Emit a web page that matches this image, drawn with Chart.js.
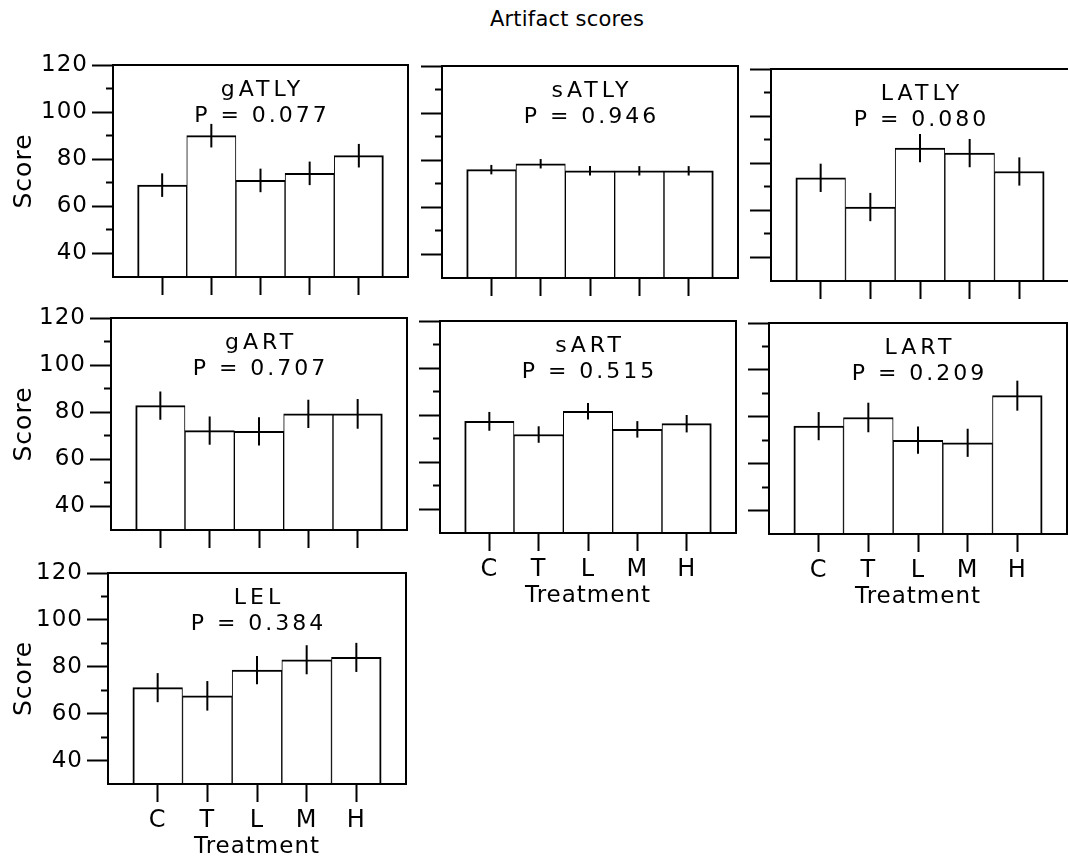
<!DOCTYPE html>
<html>
<head>
<meta charset="utf-8">
<script src="https://cdn.jsdelivr.net/npm/chart.js@4.4.0/dist/chart.umd.min.js"></script>
<style>
  html, body { margin: 0; padding: 0; background: #fff; overflow: hidden; }
  body { width: 1068px; height: 865px; position: relative; }
  #title {
    position: absolute; left: 367px; top: 8px; width: 400px;
    text-align: center; font: 21px 'DejaVu Sans'; line-height: 22px;
    letter-spacing: 0.2px; color: #000;
  }
  canvas { position: absolute; }
</style>
</head>
<body>
<div id="title">Artifact scores</div>
<script>
// categories
const treatments = ['C', 'T', 'L', 'M', 'H'];

// panel names and P values
const panelNames = ['gATLY', 'sATLY', 'LATLY', 'gART', 'sART', 'LART', 'LEL'];
const pValues = ['0.077', '0.946', '0.080', '0.707', '0.515', '0.209', '0.384'];

// mean scores per treatment
const gATLY = [69, 90, 71, 74, 81.5];
const sATLY = [76, 78.5, 75.5, 75.5, 75.5];
const LATLY = [73.8, 61.4, 86.4, 84.3, 76.5];
const gART = [82.8, 72.2, 71.9, 79.3, 79.3];
const sART = [77.4, 71.8, 81.7, 74, 76.4];
const LART = [76, 79.7, 70, 68.9, 89];
const LEL = [71.1, 67.6, 78.6, 83, 84];

// error bar half-lengths
const gATLYErr = [5, 5, 5, 5, 5];
const sATLYErr = [2, 2, 2, 2, 2];
const LATLYErr = [6, 6, 6, 6, 6];
const gARTErr = [6, 6, 6, 6, 6.3];
const sARTErr = [4, 3.5, 3.5, 3.5, 3.7];
const LARTErr = [6, 6.3, 5.8, 6, 6.4];
const LELErr = [6.2, 6.3, 6, 6.2, 6.2];

// y axis
const yMin = 30;
const yMax = 120;

const means = [gATLY, sATLY, LATLY, gART, sART, LART, LEL];
const errors = [gATLYErr, sATLYErr, LATLYErr, gARTErr, sARTErr, LARTErr, LELErr];

// plot area placement on the page (left, top, width, height)
const layout = [
  { left: 113, top: 65,    w: 295, h: 212, col: 0, showX: false },
  { left: 442, top: 66,    w: 296, h: 212, col: 1, showX: false },
  { left: 771, top: 68.5,  w: 298, h: 212, col: 2, showX: false },
  { left: 111, top: 318,   w: 296, h: 212, col: 0, showX: false },
  { left: 440, top: 320.5, w: 296, h: 212, col: 1, showX: true },
  { left: 769, top: 323,   w: 298, h: 211, col: 2, showX: true },
  { left: 108, top: 573,   w: 298, h: 211, col: 0, showX: true }
];

Chart.defaults.font.family = "'DejaVu Sans', sans-serif";
Chart.defaults.color = '#000';

const CLEAR = 'rgba(0,0,0,0)';
const PAD_TOP = 24;
const PAD_RIGHT = 12;
const X_AXIS_H = 100;

// frame, error bars and panel labels
function panelDecor(name, p, vals, errs) {
  return {
    id: 'panelDecor',
    beforeDraw(chart) {
      chart.ctx.letterSpacing = '1px';
    },
    afterDatasetsDraw(chart) {
      const { ctx, chartArea: a, scales: { y } } = chart;
      const meta = chart.getDatasetMeta(0);
      ctx.save();
      ctx.strokeStyle = '#000';
      ctx.lineWidth = 2;
      errs.forEach((e, i) => {
        const bar = meta.data[i + 1];
        ctx.beginPath();
        ctx.moveTo(bar.x, y.getPixelForValue(vals[i] + e));
        ctx.lineTo(bar.x, y.getPixelForValue(vals[i] - e));
        ctx.stroke();
      });
      ctx.strokeRect(a.left, a.top, a.width, a.height);

      const cx = (a.left + a.right) / 2;
      ctx.fillStyle = '#000';
      ctx.textAlign = 'center';
      ctx.textBaseline = 'alphabetic';
      ctx.letterSpacing = '4px';
      ctx.font = "22px 'DejaVu Sans'";
      ctx.fillText(name, cx + 2, a.top + 31);
      ctx.letterSpacing = '3px';
      ctx.font = "22px 'DejaVu Sans'";
      ctx.fillText('P = ' + p, cx + 1.5, a.top + 57);
      ctx.restore();
    }
  };
}

function makePanel(i) {
  const spec = layout[i];
  const isLeft = spec.col === 0;
  const canvasLeft = isLeft ? 0 : spec.left - 40;
  const axisW = spec.left - canvasLeft;
  const lastBar = treatments.length;

  const canvas = document.createElement('canvas');
  canvas.width = axisW + spec.w + PAD_RIGHT;
  canvas.height = PAD_TOP + spec.h + X_AXIS_H;
  canvas.style.left = canvasLeft + 'px';
  canvas.style.top = (spec.top - PAD_TOP) + 'px';
  document.body.appendChild(canvas);

  return new Chart(canvas.getContext('2d'), {
    type: 'bar',
    data: {
      labels: ['', ...treatments, ''],
      datasets: [{
        data: [null, ...means[i], null],
        backgroundColor: '#fff',
        borderColor: '#000',
        borderWidth: c => ({
          top: 2,
          left: c.dataIndex === 1 ? 2 : 1,
          right: c.dataIndex === lastBar ? 2 : 1,
          bottom: 0
        }),
        borderSkipped: false,
        barPercentage: 1,
        categoryPercentage: 1
      }]
    },
    options: {
      responsive: false,
      animation: false,
      devicePixelRatio: 1,
      layout: { padding: { left: 0, top: PAD_TOP, right: PAD_RIGHT, bottom: 0 } },
      plugins: { legend: { display: false }, tooltip: { enabled: false } },
      scales: {
        x: {
          type: 'category',
          offset: false,
          border: { display: false },
          grid: {
            offset: false,
            drawOnChartArea: false,
            tickLength: 18,
            tickWidth: 2,
            tickColor: c => (c.index === 0 || c.index === 6) ? CLEAR : '#000'
          },
          ticks: {
            display: spec.showX,
            autoSkip: false,
            maxRotation: 0,
            padding: 4,
            font: { size: 24 }
          },
          title: {
            display: spec.showX,
            text: 'Treatment',
            font: { size: 23 },
            padding: { top: 0, bottom: 23 }
          },
          afterFit: s => { s.height = X_AXIS_H; }
        },
        y: {
          min: yMin,
          max: yMax,
          border: { display: false },
          grid: {
            drawOnChartArea: false,
            tickLength: 21,
            tickWidth: 2,
            tickColor: c => (c.tick && c.tick.value === yMin) ? CLEAR : '#000',
            tickBorderDash: c => (c.tick && c.tick.value % 20 !== 0) ? [0, 14, 7] : []
          },
          ticks: {
            display: isLeft,
            autoSkip: false,
            stepSize: 10,
            padding: 4,
            font: { size: 23 },
            callback: v => (v % 20 === 0 ? v : '')
          },
          title: {
            display: isLeft,
            text: 'Score',
            font: { size: 25 },
            padding: { top: 9, bottom: 0 }
          },
          afterFit: s => { s.width = axisW; }
        }
      }
    },
    plugins: [panelDecor(panelNames[i], pValues[i], means[i], errors[i])]
  });
}

layout.forEach((_, i) => makePanel(i));
</script>
</body>
</html>
